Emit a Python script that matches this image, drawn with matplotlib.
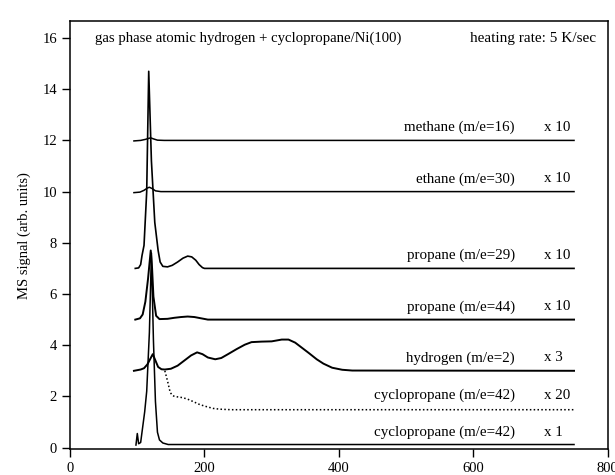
import matplotlib.pyplot as plt

plt.rcParams['font.family'] = ['Liberation Serif', 'DejaVu Serif']

# temperature (K) / signal values
methane_T = [95, 105, 112, 117, 120, 124, 130, 140, 750]
methane_y = [11.98, 12.0, 12.04, 12.08, 12.1, 12.06, 12.01, 12.0, 12.0]

ethane_T = [95, 104, 110, 115, 118, 122, 127, 135, 750]
ethane_y = [9.96, 9.98, 10.05, 10.14, 10.17, 10.12, 10.03, 10.0, 10.0]

prop29_T = [97, 102, 105, 107, 110, 114, 117, 121, 126, 131, 134, 138, 145, 152, 160, 168, 175, 181, 187, 192, 197, 200, 750]
prop29_y = [7.0, 7.02, 7.15, 7.5, 7.9, 10.0, 14.7, 11.2, 8.8, 7.7, 7.25, 7.08, 7.06, 7.12, 7.25, 7.4, 7.48, 7.45, 7.32, 7.15, 7.03, 7.0, 7.0]

prop44_T = [97, 104, 108, 112, 116, 120, 122, 124, 128, 133, 145, 155, 165, 175, 185, 195, 205, 750]
prop44_y = [5.0, 5.05, 5.2, 5.7, 6.6, 7.7, 7.0, 5.9, 5.15, 5.02, 5.03, 5.07, 5.1, 5.12, 5.1, 5.05, 5.0, 5.0]

hydro_T = [95, 105, 110, 115, 119, 123, 127, 131, 136, 141, 150, 160, 170, 180, 189, 197, 205, 216, 225, 235, 248, 260, 270, 285, 300, 315, 325, 335, 345, 355, 367, 377, 390, 405, 420, 750]
hydro_y = [3.0, 3.05, 3.1, 3.25, 3.45, 3.65, 3.4, 3.15, 3.06, 3.05, 3.08, 3.2, 3.4, 3.6, 3.72, 3.65, 3.52, 3.45, 3.5, 3.65, 3.85, 4.02, 4.12, 4.14, 4.15, 4.22, 4.22, 4.1, 3.9, 3.7, 3.45, 3.28, 3.12, 3.04, 3.01, 3.0]

cyc20_T = [141, 145, 149, 153, 160, 168, 176, 183, 193, 203, 213, 223, 240, 750]
cyc20_y = [3.0, 2.6, 2.15, 2.02, 1.98, 1.95, 1.88, 1.8, 1.68, 1.6, 1.53, 1.5, 1.48, 1.48]

cyc1_T = [98, 100, 102, 105, 108, 111, 114, 118, 121, 124, 127, 130, 133, 138, 146, 160, 750]
cyc1_y = [0.1, 0.55, 0.15, 0.2, 0.8, 1.4, 2.2, 4.5, 7.6, 4.2, 1.8, 0.6, 0.3, 0.18, 0.12, 0.12, 0.12]

labels = ['methane (m/e=16)', 'ethane (m/e=30)', 'propane (m/e=29)', 'propane (m/e=44)',
          'hydrogen (m/e=2)', 'cyclopropane (m/e=42)', 'cyclopropane (m/e=42)']
factors = ['x 10', 'x 10', 'x 10', 'x 10', 'x 3', 'x 20', 'x 1']
label_y = [12.5, 10.5, 7.5, 5.5, 3.5, 2.05, 0.6]

fig = plt.figure(figsize=(6.15, 4.75), dpi=100)
ax = fig.add_axes([0.114, 0.055, 0.874, 0.9])

ax.plot(methane_T, methane_y, color='black', lw=1.1)
ax.plot(ethane_T, ethane_y, color='black', lw=1.1)
ax.plot(prop29_T, prop29_y, color='black', lw=1.2)
ax.plot(prop44_T, prop44_y, color='black', lw=1.4)
ax.plot(hydro_T, hydro_y, color='black', lw=1.4)
ax.plot(cyc20_T, cyc20_y, color='black', lw=1.1, linestyle=(0, (1, 1.5)))
ax.plot(cyc1_T, cyc1_y, color='black', lw=1.1)

for lab, fac, yy in zip(labels, factors, label_y):
    ax.text(662, yy, lab, ha='right', va='center', fontsize=10.8)
    ax.text(706, yy, fac, ha='left', va='center', fontsize=10.8)

ax.text(37, 16, 'gas phase atomic hydrogen + cyclopropane/Ni(100)', ha='left', va='center', fontsize=10.6)
ax.text(783, 16, 'heating rate: 5 K/sec', ha='right', va='center', fontsize=11)

ax.set_xlim(0, 800)
ax.set_ylim(-0.05, 16.65)
ax.set_xticks([0, 200, 400, 600, 800])
ax.set_yticks([0, 2, 4, 6, 8, 10, 12, 14, 16])
ax.tick_params(direction='out', length=6, width=1, labelsize=10.5)
for s in ax.spines.values():
    s.set_linewidth(1.1)
ax.set_xlabel('Temperature (K)', fontsize=10.5, labelpad=2)
ax.set_ylabel('MS signal (arb. units)', fontsize=10.5, labelpad=8)

fig.savefig('out.png', dpi=100)
